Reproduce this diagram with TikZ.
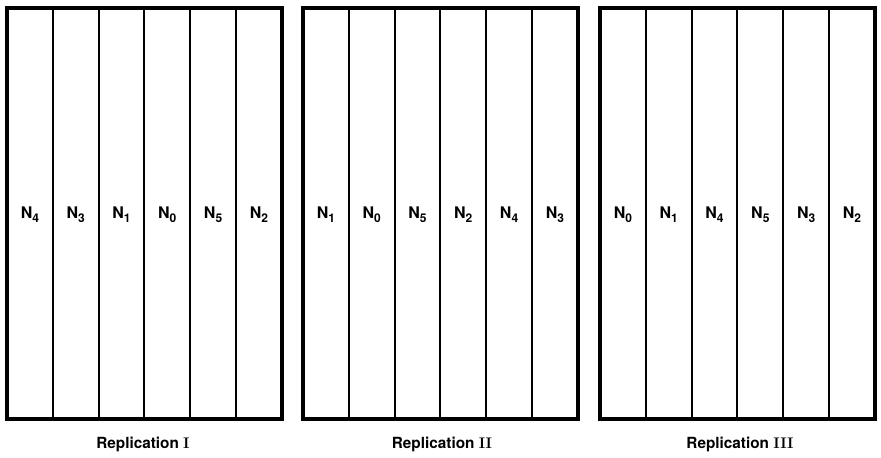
\documentclass[tikz,border=0pt]{standalone}
\usepackage{fontspec}
\setsansfont{TeX Gyre Heros}
\usepackage{tikz}

\newcommand{\trtsub}[1]{\raisebox{-3pt}{\fontsize{9}{9}\selectfont #1}}

\begin{document}
\begin{tikzpicture}[x=0.75pt,y=-0.75pt]
  \tikzset{plot/.style={line width=3.3pt},
    strip/.style={line width=1.6pt},
    trt/.style={font=\sffamily\bfseries\fontsize{12}{12}\selectfont, anchor=base},
    rep/.style={font=\sffamily\bfseries\fontsize{11.5}{12}\selectfont, anchor=base}}
  \useasboundingbox (0,0) rectangle (881,457);
  % the three replications, six strips each
  \foreach \r/\xl in {1/7, 2/303, 3/600} {
    \foreach \i in {1,...,5}
      \draw[strip] (\xl+\i*45.8,8) -- (\xl+\i*45.8,419);
    \draw[plot] (\xl,8) rectangle (\xl+275,419);
  }
  \foreach \n [count=\i from 0] in {4,3,1,0,5,2}
    \node[trt] (a\i) at (7+22.9+\i*45.8,218) {N\trtsub{\n}};
  \foreach \n [count=\i from 0] in {1,0,5,2,4,3}
    \node[trt] (b\i) at (303+22.9+\i*45.8,218) {N\trtsub{\n}};
  \foreach \n [count=\i from 0] in {0,1,4,5,3,2}
    \node[trt] (c\i) at (600+22.9+\i*45.8,218) {N\trtsub{\n}};
  \node[rep] (repI) at (143,448) {Replication \textrm{\bfseries I}};
  \node[rep] (repII) at (442,448) {Replication \textrm{\bfseries II}};
  \node[rep] (repIII) at (740,448) {Replication \textrm{\bfseries III}};
\end{tikzpicture}
\end{document}
